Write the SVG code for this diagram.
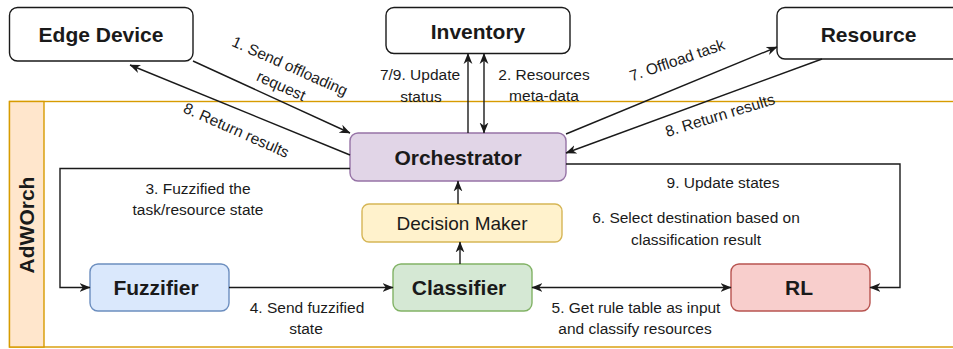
<svg xmlns="http://www.w3.org/2000/svg" width="953" height="349" viewBox="0 0 953 349">
  <style>
    .box { fill: #ffffff; stroke: #1a1a1a; stroke-width: 1.4; }
    .node { font-family: "Liberation Sans", Arial, sans-serif; font-weight: bold; font-size: 21px; fill: #1a1a1a; text-anchor: middle; }
    .plain { font-weight: normal; font-size: 19px; }
    .lbl { font-family: "Liberation Sans", Arial, sans-serif; font-size: 15.5px; fill: #1a1a1a; text-anchor: middle; }
    .edge { fill: none; stroke: #1a1a1a; stroke-width: 1.4; }
    .arr { marker-end: url(#ah); }
    .both { marker-start: url(#ah); marker-end: url(#ah); }
  </style>
  <defs>
    <marker id="ah" viewBox="0 0 10 10" refX="9.5" refY="5" markerWidth="11" markerHeight="11" markerUnits="userSpaceOnUse" orient="auto-start-reverse">
      <path d="M0,1 L10,5 L0,9 L3,5 Z" fill="#1a1a1a"/>
    </marker>
  </defs>
  <rect width="953" height="349" fill="#ffffff"/>

  <g id="adworch">
    <rect x="9.5" y="101.5" width="960" height="245.5" fill="#ffffff" stroke="#d79b00" stroke-width="1.4"/>
    <rect x="9.5" y="101.5" width="34.5" height="245.5" fill="#ffe6cc" stroke="#d79b00" stroke-width="1.4"/>
    <text class="node" font-size="19" transform="translate(33.5,225) rotate(-90)" x="0" y="0">AdWOrch</text>
  </g>

  <g id="edge-device">
    <rect class="box" x="9.5" y="7.5" width="183.5" height="53.5" rx="8"/>
    <text class="node" x="101" y="42">Edge Device</text>
  </g>
  <g id="inventory">
    <rect class="box" x="386" y="7.5" width="184" height="46" rx="8"/>
    <text class="node" x="478" y="39">Inventory</text>
  </g>
  <g id="resource">
    <rect class="box" x="777" y="7.5" width="190" height="51.5" rx="8"/>
    <text class="node" x="868.5" y="42">Resource</text>
  </g>
  <g id="orchestrator">
    <rect x="350" y="133" width="216" height="48" rx="8" fill="#e1d5e7" stroke="#9673a6" stroke-width="1.4"/>
    <text class="node" x="458" y="165">Orchestrator</text>
  </g>
  <g id="decision-maker">
    <rect x="362" y="204" width="200" height="38" rx="7" fill="#fff2cc" stroke="#d6b656" stroke-width="1.4"/>
    <text class="node plain" x="462" y="230">Decision Maker</text>
  </g>
  <g id="fuzzifier">
    <rect x="90" y="264" width="139" height="47" rx="8" fill="#dae8fc" stroke="#6c8ebf" stroke-width="1.4"/>
    <text class="node" x="156" y="295">Fuzzifier</text>
  </g>
  <g id="classifier">
    <rect x="393" y="264" width="139" height="47" rx="8" fill="#d5e8d4" stroke="#82b366" stroke-width="1.4"/>
    <text class="node" x="459" y="295">Classifier</text>
  </g>
  <g id="rl">
    <rect x="731" y="264" width="139" height="47" rx="8" fill="#f8cecc" stroke="#b85450" stroke-width="1.4"/>
    <text class="node" x="799" y="295">RL</text>
  </g>

  <g id="connectors">
    <path class="edge arr" d="M193,61 L350,133"/>
    <path class="edge arr" d="M350,155 L130,65"/>
    <path class="edge arr" d="M468,133 L468,53.5"/>
    <path class="edge both" d="M484,53.5 L484,133"/>
    <path class="edge arr" d="M566,134 L777,47"/>
    <path class="edge arr" d="M822,59 L566,153"/>
    <path class="edge arr" d="M350,168.5 H60 V287.5 H90"/>
    <path class="edge arr" d="M566,164 H900 V287.5 H870"/>
    <path class="edge arr" d="M229,287.5 H393"/>
    <path class="edge both" d="M532,287.5 H731"/>
    <path class="edge arr" d="M460,264 V242"/>
    <path class="edge arr" d="M458,204 V181"/>

    <g transform="translate(285.5,76) rotate(24)">
      <text class="lbl" x="0" y="-5.5">1. Send offloading</text>
      <text class="lbl" x="0" y="16">request</text>
    </g>
    <text class="lbl" transform="translate(236.5,130) rotate(24)" x="0" y="5.5">8. Return results</text>
    <text class="lbl" x="420" y="79.5">7/9. Update</text>
    <text class="lbl" x="421" y="101.5">status</text>
    <text class="lbl" x="544" y="79.5">2. Resources</text>
    <text class="lbl" x="544" y="101">meta-data</text>
    <text class="lbl" transform="translate(677,60) rotate(-19)" x="0" y="5.5">7. Offload task</text>
    <text class="lbl" transform="translate(720,115) rotate(-17)" x="0" y="5.5">8. Return results</text>
    <text class="lbl" x="198" y="193.5">3. Fuzzified the</text>
    <text class="lbl" x="198" y="214.5">task/resource state</text>
    <text class="lbl" x="723" y="187.5">9. Update states</text>
    <text class="lbl" x="696" y="222.5">6. Select destination based on</text>
    <text class="lbl" x="696" y="244.5">classification result</text>
    <text class="lbl" x="307" y="312.5">4. Send fuzzified</text>
    <text class="lbl" x="306" y="333.5">state</text>
    <text class="lbl" x="636" y="312.5">5. Get rule table as input</text>
    <text class="lbl" x="635" y="333.5">and classify resources</text>
  </g>
</svg>
